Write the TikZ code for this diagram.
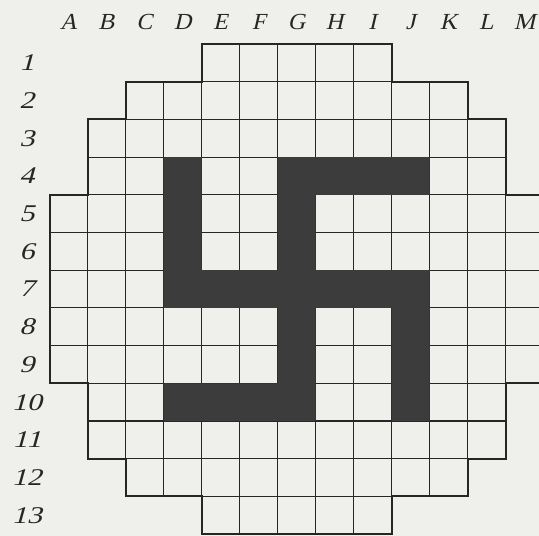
\documentclass[tikz,border=0pt]{standalone}
\usepackage{fontspec}
\newfontfamily\labelfont{Liberation Serif}[FakeSlant=0.22]
\definecolor{paper}{HTML}{EFEFEC}
\definecolor{ink}{HTML}{262626}
\definecolor{darkcell}{HTML}{3C3C3C}
\tikzset{
  gridline/.style={draw=ink, line width=1.1pt},
  outline/.style={draw=ink, line width=2pt, line join=miter},
  darkfill/.style={fill=darkcell},
  collabel/.style={font=\labelfont\fontsize{23}{23}\selectfont, text=ink, inner sep=0pt, anchor=center, xscale=1.05},
  rowlabel/.style={font=\labelfont\fontsize{24}{24}\selectfont, text=ink, inner sep=0pt, anchor=center, xscale=1.25}
}
\begin{document}
\begin{tikzpicture}[x=1pt,y=-1pt]
\useasboundingbox (0,0) rectangle (539,536);
\fill[paper] (0,0) rectangle (539,536);
\clip (0,0) rectangle (539,536);
% column labels
\foreach \l [count=\i from 0] in {A,B,C,D,E,F,G,H,I,J,K,L,M} {
  \node[collabel] (col\l) at ({49.5+38*(\i+0.5)},22) {\l};
}
% row labels
\foreach \r in {1,...,13} {
  \node[rowlabel] (row\r) at (27,{44+37.7*(\r-0.5)}) {\r};
}
\begin{scope}[shift={(49.5,44)}, x=38pt, y=-37.7pt]
  % grid cells
  \foreach \r/\a/\b in {1/4/8, 2/2/10, 3/1/11, 4/1/11, 5/0/12, 6/0/12, 7/0/12, 8/0/12, 9/0/12, 10/1/11, 11/1/11, 12/2/10, 13/4/8} {
    \foreach \c in {\a,...,\b} {
      \draw[gridline] (\c,\r-1) rectangle ++(1,1);
    }
  }
  % dark figure
  \fill[darkfill]
    (3,3) rectangle (4,7)
    (6,3) rectangle (10,4)
    (6,3) rectangle (7,10)
    (3,6) rectangle (10,7)
    (9,6) rectangle (10,10)
    (3,9) rectangle (7,10);
  % outer boundary
  \draw[outline] (4,0) -- (9,0) -- (9,1) -- (11,1) -- (11,2) -- (12,2) -- (12,4) -- (13,4) -- (13,9) -- (12,9) -- (12,11) -- (11,11) -- (11,12) -- (9,12) -- (9,13) -- (4,13) -- (4,12) -- (2,12) -- (2,11) -- (1,11) -- (1,9) -- (0,9) -- (0,4) -- (1,4) -- (1,2) -- (2,2) -- (2,1) -- (4,1) -- cycle;
\end{scope}
\end{tikzpicture}
\end{document}
